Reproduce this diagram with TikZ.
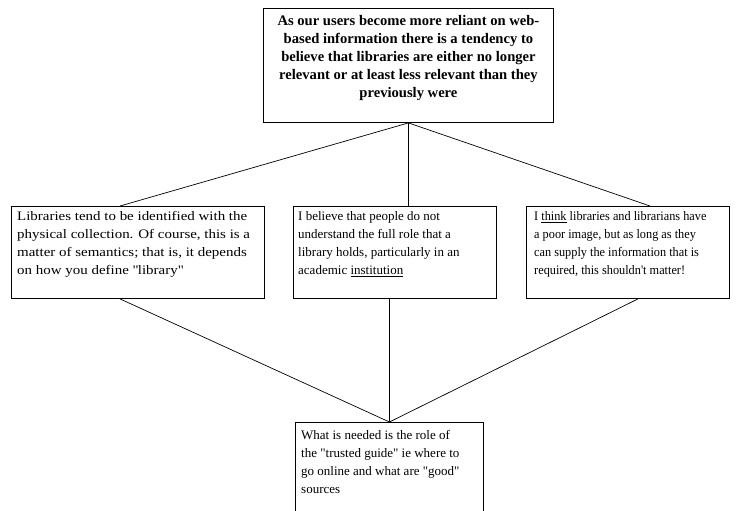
\documentclass[tikz,border=0pt]{standalone}
\usepackage{fontspec}
\setmainfont{Liberation Serif}
\newfontfamily\widefont[FakeStretch=1.15]{Liberation Serif}
\newfontfamily\narrowfont[FakeStretch=0.945]{Liberation Serif}
\usetikzlibrary{calc}
\begin{document}
\begin{tikzpicture}[x=1pt,y=-1pt,
  box/.style={draw=black, line width=0.9pt, rectangle, anchor=north west, inner sep=0pt},
  txt/.style={anchor=north west, inner sep=0pt, align=left, font=#1\fontsize{13}{18}\selectfont},
  txt/.default=\rmfamily,
  ttxt/.style={anchor=north, inner sep=0pt, align=center, font=\fontsize{14.6}{18}\selectfont\bfseries},
  conn/.style={draw=black, line width=0.7pt}]
\useasboundingbox (0,0) rectangle (739,511);
\clip (0,0) rectangle (739,511);
\fill[white] (0,0) rectangle (739,511);
% boxes
\node[box, minimum width=290pt, minimum height=114pt] (T) at (263,8) {};
\node[box, minimum width=253pt, minimum height=92pt] (L) at (11,206) {};
\node[box, minimum width=203pt, minimum height=92pt] (M) at (293,206) {};
\node[box, minimum width=203pt, minimum height=92pt] (R) at (526,206) {};
\node[box, minimum width=188pt, minimum height=100pt] (B) at (295,422) {};
% texts
\node[ttxt] (Tt) at ($(T.north)+(0,7)$) {As our users become more reliant on web-\\based information there is a tendency to\\believe that libraries are either no longer\\relevant or at least less relevant than they\\previously were};
\node[txt=\widefont] (Lt) at ($(L.north west)+(6,5)$) {Libraries tend to be identified with the\\physical collection. Of course, this is a\\matter of semantics; that is, it depends\\on how you define \textquotedbl library\textquotedbl};
\node[txt] (Mt) at ($(M.north west)+(5,5)$) {I believe that people do not\\understand the full role that a\\library holds, particularly in an\\academic \underline{institution}};
\node[txt=\narrowfont] (Rt) at ($(R.north west)+(8,5)$) {I \underline{think} libraries and librarians have\\a poor image, but as long as they\\can supply the information that is\\required, this shouldn't matter!};
\node[txt] (Bt) at ($(B.north west)+(6,8)$) {What is needed is the role of\\the \textquotedbl trusted guide\textquotedbl\ ie where to\\go online and what are \textquotedbl good\textquotedbl\\sources};
% connectors
\draw[conn] (T.south) -- ($(L.north west)+(109,0)$);
\draw[conn] (T.south) -- (T.south |- M.north);
\draw[conn] (T.south) -- ($(R.north west)+(124,0)$);
\draw[conn] ($(L.south west)+(109,0)$) -- (B.north);
\draw[conn] (B.north |- M.south) -- (B.north);
\draw[conn] ($(R.south west)+(112,0)$) -- (B.north);
\end{tikzpicture}
\end{document}
